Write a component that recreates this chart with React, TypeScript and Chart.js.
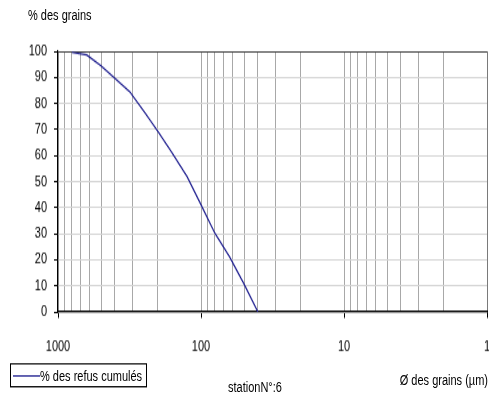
import React, { useEffect, useRef } from "react";
import { Chart, registerables } from "chart.js";

Chart.register(...registerables);

// Ouvertures des tamis (µm) et pourcentages des refus cumulés
const diametres = [800, 630, 500, 400, 315, 250, 200, 160, 125, 100, 80, 63, 50, 40];
const refusCumules = [99.6, 98.6, 94.4, 89.6, 84.5, 76.9, 69.2, 61.2, 51.9, 41.1, 30.2, 21.1, 10.7, 0];

// Graduations de l'axe logarithmique (quadrillage) et libellés affichés
const grilleX = [
  1, 2, 3, 4, 5, 6, 7, 8, 9,
  10, 20, 30, 40, 50, 60, 70, 80, 90,
  100, 200, 300, 400, 500, 600, 700, 800, 900,
  1000,
];
const etiquettesX = [1000, 100, 10, 1];
const graduationsY = [0, 10, 20, 30, 40, 50, 60, 70, 80, 90, 100];

const FONT = "'Liberation Sans', Arial, sans-serif";
const FONT_SIZE = 11;
const LINE_COLOR = "#1c1c8e";

// The whole figure is laid out in a flatter box and stretched vertically,
// which gives the tall, narrow lettering of the original sheet.
const STRETCH = 1.35;
const W = 489;
const H = Math.round(409 / STRETCH);

export default function App() {
  const canvasRef = useRef<HTMLCanvasElement | null>(null);

  useEffect(() => {
    const canvas = canvasRef.current;
    if (!canvas) return;
    const chart = new Chart(canvas, {
      type: "line",
      data: {
        datasets: [
          {
            label: "% des refus cumulés",
            data: diametres.map((d, i) => ({ x: d, y: refusCumules[i] })),
            borderColor: LINE_COLOR,
            borderWidth: 1.2,
            pointRadius: 0,
            tension: 0,
            fill: false,
          },
        ],
      },
      options: {
        animation: false,
        responsive: false,
        devicePixelRatio: 1,
        layout: { padding: { left: 0, right: 2, top: 38, bottom: 42 } },
        plugins: { legend: { display: false }, tooltip: { enabled: false } },
        scales: {
          x: {
            type: "logarithmic",
            min: 1,
            max: 1000,
            reverse: true,
            afterBuildTicks: (scale: any) => {
              scale.ticks = grilleX.map((value) => ({ value }));
            },
            afterFit: (scale: any) => {
              scale.height = H - 38 - 42 - 193;
              scale.paddingLeft = 0;
              scale.paddingRight = 0;
            },
            border: { display: true, color: "#000", width: 1.2 },
            grid: {
              color: (ctx: any) => (ctx.tick && ctx.tick.value === 1 ? "#7a7a7a" : "#a8a8a8"),
              lineWidth: 1,
              tickLength: 4.5,
              tickColor: (ctx: any) =>
                ctx.tick && etiquettesX.includes(ctx.tick.value) ? "#000" : "rgba(0,0,0,0)",
            },
            ticks: {
              autoSkip: false,
              maxRotation: 0,
              minRotation: 0,
              padding: 15,
              color: "#000",
              font: { family: FONT, size: FONT_SIZE },
              callback: (value: any) => (etiquettesX.includes(Number(value)) ? String(value) : ""),
            },
          },
          y: {
            type: "linear",
            min: 0,
            max: 100,
            afterBuildTicks: (scale: any) => {
              scale.ticks = graduationsY.map((value) => ({ value }));
            },
            afterFit: (scale: any) => {
              scale.width = 58;
              scale.paddingTop = 0;
              scale.paddingBottom = 0;
            },
            border: { display: true, color: "#000", width: 1.2 },
            grid: {
              color: (ctx: any) => (ctx.tick && ctx.tick.value === 100 ? "#404040" : "#d4d4d4"),
              lineWidth: 1,
              tickLength: 4,
              tickColor: "#000",
            },
            ticks: {
              padding: 7,
              color: "#000",
              font: { family: FONT, size: FONT_SIZE },
            },
          },
        },
      },
    });
    return () => chart.destroy();
  }, []);

  const texte: React.CSSProperties = {
    position: "absolute",
    fontFamily: FONT,
    fontSize: FONT_SIZE,
    color: "#000",
    whiteSpace: "nowrap",
    lineHeight: "13px",
  };

  return (
    <div
      style={{
        position: "absolute",
        left: 0,
        top: 0,
        width: W,
        height: 409,
        background: "#fff",
        overflow: "hidden",
      }}
    >
      <div
        style={{
          position: "absolute",
          left: 0,
          top: 0,
          width: W,
          height: H,
          transform: `scaleY(${STRETCH})`,
          transformOrigin: "0 0",
        }}
      >
        <canvas ref={canvasRef} width={W} height={H} style={{ display: "block" }} />
        <div style={{ ...texte, left: 28, top: 5 }}>% des grains</div>
        <div
          style={{
            position: "absolute",
            left: 10,
            top: 269,
            width: 137,
            height: 18,
            border: "1px solid #000",
            boxSizing: "border-box",
            display: "flex",
            alignItems: "center",
          }}
        >
          <span
            style={{
              display: "inline-block",
              width: 27,
              height: 0,
              borderTop: `1px solid ${LINE_COLOR}`,
              marginLeft: 2,
            }}
          />
          <span style={{ fontFamily: FONT, fontSize: FONT_SIZE, color: "#000", whiteSpace: "nowrap" }}>
            % des refus cumulés
          </span>
        </div>
        <div style={{ ...texte, left: 228, top: 280 }}>stationN°:6</div>
        <div style={{ ...texte, right: 1, top: 275 }}>Ø des grains (µm)</div>
      </div>
    </div>
  );
}
